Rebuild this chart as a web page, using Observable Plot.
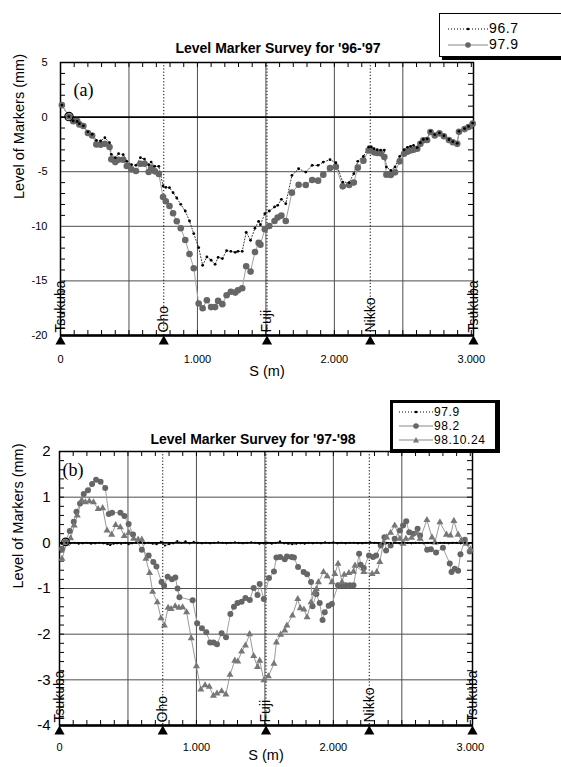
<!DOCTYPE html>
<html><head><meta charset="utf-8">
<script src="https://cdn.jsdelivr.net/npm/d3@7"></script>
<script src="https://cdn.jsdelivr.net/npm/@observablehq/plot@0.6"></script>
<style>
body{margin:0;background:#fff;font-family:"Liberation Sans",Arial,sans-serif;}
#wrap{position:relative;width:561px;height:767px;overflow:hidden;background:#fff;}
.panel{position:absolute;left:0;}
.legend{position:absolute;background:#fff;box-sizing:border-box;}
.row{position:absolute;left:0;display:flex;align-items:center;letter-spacing:0.6px;white-space:nowrap;}
.row svg{display:block;}
</style></head>
<body><div id="wrap"></div>
<script>
// ---------- data ----------
const stationNames = ["Tsukuba","Oho","Fuji","Nikko","Tsukuba"];
const stationS = [0, 754, 1508, 2262, 3016];
const xTickValues = [0, 1000, 2000, 3000];
const xTickLabels = ["0", "1.000", "2.000", "3.000"];
const xGridValues = [500, 1000, 1500, 2000, 2500];
const yTicksA = [5, 0, -5, -10, -15, -20];
const yTicksB = [2, 1, 0, -1, -2, -3, -4];
const xMinorTicks = [0,100,200,300,400,500,600,700,800,900,1000,1100,1200,1300,1400,1500,1600,1700,1800,1900,2000,2100,2200,2300,2400,2500,2600,2700,2800,2900,3000];
const yMinorA = [-19,-18,-17,-16,-14,-13,-12,-11,-9,-8,-7,-6,-4,-3,-2,-1,1,2,3,4];
const yMinorB = [-3.8,-3.6,-3.4,-3.2,-3,-2.8,-2.6,-2.4,-2.2,-2,-1.8,-1.6,-1.4,-1.2,-1,-0.8,-0.6,-0.4,-0.2,0,0.2,0.4,0.6,0.8,1,1.2,1.4,1.6,1.8];

// panel (a): '96-'97  [S (m), level (mm)]
const survey96_7 = [[10,1.1],[62,0.05],[93,-0.35],[122,-0.4],[138,-0.6],[167,-0.8],[200,-1.35],[231,-1.58],[262,-2.13],[293,-2.19],[324,-1.89],[358,-2.35],[371,-3.41],[400,-3.72],[424,-3.35],[458,-3.44],[484,-4.05],[518,-4.36],[551,-4.42],[584,-3.72],[613,-3.84],[644,-4.36],[662,-4.12],[689,-4.51],[718,-4.51],[749,-6.31],[769,-6.43],[796,-6.46],[822,-6.92],[849,-7.41],[878,-7.99],[911,-8.6],[942,-9.51],[973,-10.67],[1009,-11.95],[1038,-13.57],[1069,-12.8],[1100,-13.11],[1129,-13.48],[1151,-12.84],[1182,-12.96],[1213,-12.23],[1244,-12.29],[1276,-12.38],[1296,-12.29],[1327,-12.29],[1356,-10.55],[1388,-11.28],[1420,-10.18],[1447,-9.54],[1460,-9.85],[1492,-8.84],[1525,-8.6],[1563,-8.23],[1586,-8.08],[1613,-7.53],[1645,-7.93],[1690,-5.34],[1739,-4.73],[1791,-5.03],[1838,-4.42],[1881,-4.42],[1919,-4.12],[1968,-3.9],[2011,-4.18],[2061,-5.95],[2108,-6.0],[2142,-5.18],[2171,-4.05],[2212,-3.6],[2250,-2.74],[2270,-2.74],[2290,-2.9],[2313,-2.99],[2338,-3.02],[2365,-3.02],[2380,-4.57],[2412,-4.88],[2443,-4.57],[2477,-3.6],[2509,-2.99],[2533,-2.77],[2556,-2.68],[2578,-2.59],[2605,-2.8],[2628,-2.35],[2650,-2.05],[2677,-2.0],[2702,-1.3],[2733,-1.6],[2767,-1.45],[2800,-1.7],[2837,-2.05],[2865,-2.25],[2897,-2.4],[2910,-1.3],[2951,-1.05],[2980,-0.85],[3010,-0.55]];
const survey97_9a = [[10,1.1],[62,0.05],[93,-0.37],[122,-0.37],[138,-0.67],[167,-0.82],[200,-1.46],[231,-1.68],[262,-2.5],[293,-2.53],[324,-2.44],[358,-2.74],[371,-3.87],[400,-4.12],[424,-3.9],[458,-3.9],[484,-4.48],[518,-4.79],[551,-4.94],[584,-4.27],[613,-4.27],[644,-5.03],[662,-4.63],[689,-4.97],[718,-5.21],[749,-7.32],[769,-7.71],[796,-8.14],[822,-8.8],[849,-9.54],[878,-10.18],[911,-11.25],[942,-12.53],[973,-13.84],[1009,-17.07],[1038,-17.5],[1069,-16.77],[1100,-17.4],[1129,-17.4],[1151,-16.83],[1182,-17.13],[1213,-16.31],[1244,-16.0],[1276,-16.07],[1296,-15.85],[1327,-15.67],[1356,-13.66],[1388,-14.15],[1420,-12.35],[1447,-11.52],[1460,-11.68],[1492,-10.27],[1525,-9.97],[1563,-9.51],[1586,-9.2],[1613,-9.02],[1645,-9.51],[1690,-6.92],[1739,-6.19],[1791,-6.22],[1838,-5.76],[1881,-5.82],[1919,-5.27],[1968,-4.66],[2011,-4.54],[2061,-6.34],[2108,-6.22],[2142,-6.0],[2171,-4.63],[2212,-3.99],[2250,-3.05],[2270,-3.05],[2290,-3.23],[2313,-3.29],[2338,-3.32],[2365,-3.66],[2380,-5.27],[2412,-5.3],[2443,-5.06],[2477,-4.05],[2509,-3.35],[2533,-3.17],[2556,-3.05],[2578,-2.99],[2605,-2.9],[2628,-2.44],[2650,-2.13],[2677,-2.1],[2702,-1.37],[2733,-1.68],[2767,-1.49],[2800,-1.75],[2837,-2.1],[2865,-2.3],[2897,-2.45],[2910,-1.35],[2951,-1.1],[2980,-0.9],[3010,-0.6]];
const refA = [[62, 0.05]];

// panel (b): '97-'98
const survey97_9b = [[15,-0.02],[50,0],[80,-0.01],[110,0],[140,-0.02],[170,-0.01],[200,0],[230,-0.02],[260,-0.01],[290,0],[320,-0.01],[350,-0.03],[370,-0.05],[395,-0.02],[420,-0.01],[450,-0.02],[480,0],[505,-0.03],[530,-0.01],[560,0],[590,0.01],[620,-0.01],[650,0],[680,-0.02],[710,-0.03],[740,0.02],[770,-0.06],[800,-0.03],[830,-0.01],[860,0.04],[890,0],[920,0.03],[950,-0.01],[980,0.02],[1010,0],[1040,-0.01],[1070,0],[1100,-0.01],[1130,0],[1160,0.01],[1190,0],[1220,-0.01],[1250,0],[1280,0.01],[1310,0],[1340,-0.01],[1370,0],[1400,0.01],[1430,0],[1460,-0.02],[1490,-0.01],[1520,0],[1550,-0.02],[1580,0],[1610,0.03],[1640,-0.01],[1670,-0.02],[1700,-0.03],[1730,-0.02],[1760,-0.01],[1790,-0.02],[1820,0],[1850,-0.01],[1880,0],[1910,-0.01],[1940,0.01],[1970,0],[2000,0.01],[2030,-0.01],[2060,0],[2090,-0.01],[2120,0],[2150,0],[2180,-0.01],[2210,-0.01],[2240,0],[2270,0.01],[2300,0],[2330,-0.01],[2360,-0.02],[2390,0],[2420,-0.01],[2450,0],[2480,-0.01],[2510,0],[2540,0],[2570,-0.01],[2600,0],[2630,0],[2660,-0.01],[2690,0],[2720,0],[2750,-0.01],[2780,0],[2810,0],[2840,-0.01],[2870,0],[2900,0],[2930,-0.01],[2960,0],[2990,-0.01]];
const survey98_2 = [[18,-0.13],[44,0.02],[75,0.26],[104,0.46],[124,0.68],[150,0.86],[177,1.07],[208,1.15],[238,1.29],[267,1.38],[300,1.34],[334,1.2],[360,0.63],[384,0.66],[445,0.66],[474,0.59],[505,0.41],[537,0.18],[601,-0.15],[651,-0.28],[685,-0.42],[708,-0.52],[745,-0.86],[764,-0.94],[790,-0.74],[821,-0.8],[846,-0.76],[862,-1.0],[876,-1.19],[972,-1.26],[1005,-1.76],[1040,-1.87],[1072,-1.96],[1100,-2.18],[1125,-2.18],[1150,-2.22],[1184,-1.98],[1216,-2.07],[1248,-1.56],[1274,-1.4],[1300,-1.32],[1330,-1.29],[1358,-1.21],[1390,-1.25],[1418,-0.99],[1446,-1.14],[1462,-0.9],[1492,-1.23],[1530,-0.77],[1566,-0.63],[1584,-0.32],[1611,-0.31],[1645,-0.36],[1661,-0.3],[1695,-0.31],[1712,-0.32],[1742,-0.53],[1783,-0.64],[1808,-0.69],[1837,-0.86],[1848,-1.39],[1876,-1.12],[1900,-1.32],[1921,-1.69],[1937,-1.52],[1966,-1.38],[1989,-1.34],[2034,-0.93],[2063,-0.93],[2090,-0.93],[2120,-0.93],[2147,-0.93],[2188,-0.24],[2199,-0.48],[2222,-0.55],[2260,-0.28],[2290,-0.31],[2312,-0.28],[2346,-0.06],[2373,0.12],[2385,-0.17],[2418,-0.06],[2448,0.09],[2486,0.27],[2509,0.38],[2532,0.47],[2554,0.23],[2584,0.2],[2615,0.31],[2633,0.16],[2685,-0.15],[2712,-0.14],[2750,-0.21],[2800,-0.11],[2850,-0.45],[2863,-0.64],[2887,-0.57],[2911,-0.61],[2928,-0.25],[2960,0.07],[2996,-0.19]];
const survey98_10_24 = [[18,-0.35],[52,-0.02],[81,0.1],[108,0.38],[130,0.6],[162,0.93],[189,0.89],[218,0.91],[248,0.89],[282,0.74],[315,0.76],[347,0.27],[381,0.18],[410,0.39],[444,0.34],[473,0.15],[507,0.22],[541,0.09],[574,0.07],[601,0.07],[631,-0.35],[658,-0.66],[680,-1.07],[714,-1.3],[741,-1.65],[766,-1.81],[793,-1.42],[815,-1.45],[845,-1.39],[872,-1.42],[899,-1.41],[928,-1.52],[962,-2.09],[1000,-2.7],[1032,-3.21],[1063,-3.12],[1094,-3.15],[1124,-3.35],[1150,-3.3],[1184,-3.25],[1215,-3.32],[1245,-2.89],[1280,-2.58],[1302,-2.6],[1330,-2.38],[1358,-2.25],[1388,-2.0],[1418,-2.48],[1446,-2.72],[1462,-2.58],[1493,-3.01],[1525,-2.92],[1566,-2.65],[1584,-2.18],[1615,-2.01],[1645,-1.92],[1661,-1.81],[1701,-1.59],[1740,-1.23],[1758,-1.43],[1785,-1.46],[1808,-1.63],[1837,-1.3],[1860,-1.1],[1876,-1.01],[1891,-0.86],[1928,-0.64],[1955,-0.73],[1989,-0.86],[2011,-0.68],[2034,-0.46],[2063,-0.86],[2079,-0.7],[2113,-0.66],[2147,-0.63],[2158,-0.5],[2222,-0.64],[2283,-0.68],[2317,-0.64],[2339,-0.42],[2366,0.0],[2389,0.12],[2418,0.22],[2448,0.38],[2486,0.09],[2509,-0.02],[2530,0.09],[2571,0.11],[2607,0.21],[2633,0.09],[2683,0.5],[2720,0.12],[2742,0.01],[2778,0.45],[2826,0.18],[2855,0.16],[2880,0.48],[2911,0.18],[2935,0.05],[2972,-0.02],[3001,-0.14]];
const refB = [[44, 0.02]];

const titleA = "Level Marker Survey for '96-'97";
const titleB = "Level Marker Survey for '97-'98";
const yLabel = "Level of Markers (mm)";
const xLabel = "S (m)";

// ---------- drawing ----------
const W = 561;
const stations = stationNames.map((n, i) => ({name: n, s: stationS[i]}));
const X = d => d[0], Y = d => d[1];

function panel(cfg) {
  const H = cfg.height - cfg.mt - cfg.mb;
  const PW = W - cfg.ml - cfg.mr;
  const [y0, y1] = cfg.yDomain;
  const marks = [
    Plot.ruleX(xGridValues, {stroke: "#4d4d4d", strokeWidth: 1}),
    Plot.ruleY(cfg.yTicks.filter(v => v !== 0 && v !== y0 && v !== y1), {stroke: "#4d4d4d", strokeWidth: 1}),
    Plot.ruleX(stations.slice(1, 4), {x: "s", stroke: "#000", strokeWidth: 1, strokeDasharray: "1.2,2"}),
    Plot.ruleY([0], {stroke: "#000", strokeWidth: 1.6}),
    Plot.tickX(xMinorTicks, {x: d => d, insetTop: H - 5, stroke: "#000"}),
    Plot.tickX(xMinorTicks, {x: d => d, insetBottom: H - 5, stroke: "#000"}),
    Plot.tickY(cfg.yMinor, {y: d => d, insetRight: PW - 5, stroke: "#000"}),
    Plot.tickY(cfg.yMinor, {y: d => d, insetLeft: PW - 5, stroke: "#000"}),
    Plot.frame({stroke: "#000", strokeWidth: 1.5}),
    Plot.ruleY([y0], {stroke: "#000", strokeWidth: 2.5}),
    ...cfg.series,
    Plot.text(stations, {x: "s", y: () => y0, text: "name", rotate: -90, textAnchor: "start", lineAnchor: "middle", dy: -3, fontSize: 14}),
    Plot.dot(stations, {x: "s", y: () => y0, symbol: "triangle", r: 3.8, fill: "#000", dy: 6}),
    Plot.text(xTickValues, {x: d => d, y: () => y0, text: (d, i) => xTickLabels[i], dy: cfg.xLabDy, fontSize: 11}),
    Plot.text(cfg.yTicks, {x: () => 0, y: d => d, text: d => String(d), textAnchor: "end", dx: cfg.yLabDx, fontSize: cfg.yFont}),
    Plot.text([yLabel], {frameAnchor: "left", rotate: -90, dx: -41, fontSize: 14.5}),
    Plot.text([xLabel], {frameAnchor: "bottom", dy: cfg.xTitleDy, fontSize: 14.5}),
    Plot.text([cfg.title], {frameAnchor: "top", dx: cfg.titleDx, dy: cfg.titleDy, fontSize: 14, fontWeight: "bold"}),
    Plot.text([cfg.tag], {frameAnchor: "top-left", textAnchor: "start", dx: cfg.tagDx, dy: cfg.tagDy, fontSize: 18, fontFamily: "Liberation Serif, Times New Roman, serif"})
  ];
  return Plot.plot({
    width: W, height: cfg.height,
    marginTop: cfg.mt, marginBottom: cfg.mb, marginLeft: cfg.ml, marginRight: cfg.mr,
    x: {domain: [0, 3016], axis: null},
    y: {domain: [y0, y1], axis: null},
    style: {fontFamily: "Liberation Sans, Arial, sans-serif", fontSize: "11px", background: "white", overflow: "visible"},
    marks
  });
}

const pA = panel({
  height: 390, mt: 62, mb: 55, ml: 60, mr: 88,
  yDomain: [-20, 5], yTicks: yTicksA, yMinor: yMinorA, yFont: 11, yLabDx: -13,
  xLabDy: 24, xTitleDy: 40, title: titleA, titleDx: 11, titleDy: -19,
  tag: "(a)", tagDx: 13, tagDy: 21,
  series: [
    Plot.line(survey96_7, {x: X, y: Y, stroke: "#000", strokeWidth: 0.8, strokeDasharray: "1,2"}),
    Plot.line(survey97_9a, {x: X, y: Y, stroke: "#a0a0a0", strokeWidth: 1}),
    Plot.dot(survey97_9a, {x: X, y: Y, r: 3.3, fill: "#666"}),
    Plot.dot(survey96_7, {x: X, y: Y, r: 1.4, fill: "#000"}),
    Plot.dot(refA, {x: X, y: Y, r: 4.2, stroke: "#000", fill: "none", strokeWidth: 1.2})
  ]
});
const pB = panel({
  height: 382, mt: 66, mb: 42, ml: 59, mr: 89,
  yDomain: [-4, 2], yTicks: yTicksB, yMinor: yMinorB, yFont: 15, yLabDx: -9,
  xLabDy: 22, xTitleDy: 34, title: titleB, titleDx: -13, titleDy: -17,
  tag: "(b)", tagDx: 3, tagDy: 12,
  series: [
    Plot.line(survey97_9b, {x: X, y: Y, stroke: "#000", strokeWidth: 0.9, strokeDasharray: "1,1.5"}),
    Plot.line(survey98_2, {x: X, y: Y, stroke: "#a0a0a0", strokeWidth: 1}),
    Plot.line(survey98_10_24, {x: X, y: Y, stroke: "#999", strokeWidth: 1}),
    Plot.dot(survey98_2, {x: X, y: Y, r: 3, fill: "#666"}),
    Plot.dot(survey98_10_24, {x: X, y: Y, symbol: "triangle", r: 2.6, fill: "#777"}),
    Plot.dot(survey97_9b, {x: X, y: Y, r: 1.1, fill: "#000"}),
    Plot.dot(refB, {x: X, y: Y, r: 3.8, stroke: "#000", fill: "none", strokeWidth: 1.1})
  ]
});

const wrap = document.getElementById("wrap");
pA.classList.add("panel"); pA.style.top = "0px";
pB.classList.add("panel"); pB.style.top = "385px";
wrap.appendChild(pA); wrap.appendChild(pB);

// legends
function sym(kind, w) {
  const c = w / 2;
  const dot = kind === "small" ? `<circle cx="${c}" cy="5" r="1.3" fill="#000"/>` :
              kind === "circle" ? `<circle cx="${c}" cy="5" r="2.8" fill="#666"/>` :
              `<path d="M${c},2 L${c + 3},7.5 L${c - 3},7.5 Z" fill="#777"/>`;
  const line = kind === "small" ? `<line x1="0" y1="5" x2="${w}" y2="5" stroke="#000" stroke-width="1" stroke-dasharray="1,2"/>` :
               `<line x1="0" y1="5" x2="${w}" y2="5" stroke="#888" stroke-width="1"/>`;
  return `<svg width="${w}" height="10">${line}${dot}</svg>`;
}
function legend(items, style, rowTops, symLeft, symW, font, lh) {
  const box = document.createElement("div");
  box.className = "legend";
  Object.assign(box.style, style);
  items.forEach((it, i) => {
    const r = document.createElement("div");
    r.className = "row";
    r.style.top = rowTops[i] + "px";
    r.style.left = symLeft + "px";
    r.style.fontSize = font + "px";
    r.style.lineHeight = lh + "px";
    r.style.height = lh + "px";
    r.innerHTML = sym(it.kind, symW) + `<span style="margin-left:1px">${it.label}</span>`;
    box.appendChild(r);
  });
  wrap.appendChild(box);
}
const legendA = [{label: "96.7", kind: "small"}, {label: "97.9", kind: "circle"}];
const legendB = [{label: "97.9", kind: "small"}, {label: "98.2", kind: "circle"}, {label: "98.10.24", kind: "triangle"}];
legend(legendA, {left: "439px", top: "13px", width: "140px", height: "44px", border: "1.5px solid #000", boxShadow: "3px 3px 0 #000"}, [8, 24], 8, 40, 14, 13);
legend(legendB, {left: "390px", top: "400px", width: "110px", height: "53px", border: "3px solid #000", borderRightWidth: "5px", borderBottomWidth: "4px"}, [2, 16, 30], 6, 34, 12, 14);
</script></body></html>
